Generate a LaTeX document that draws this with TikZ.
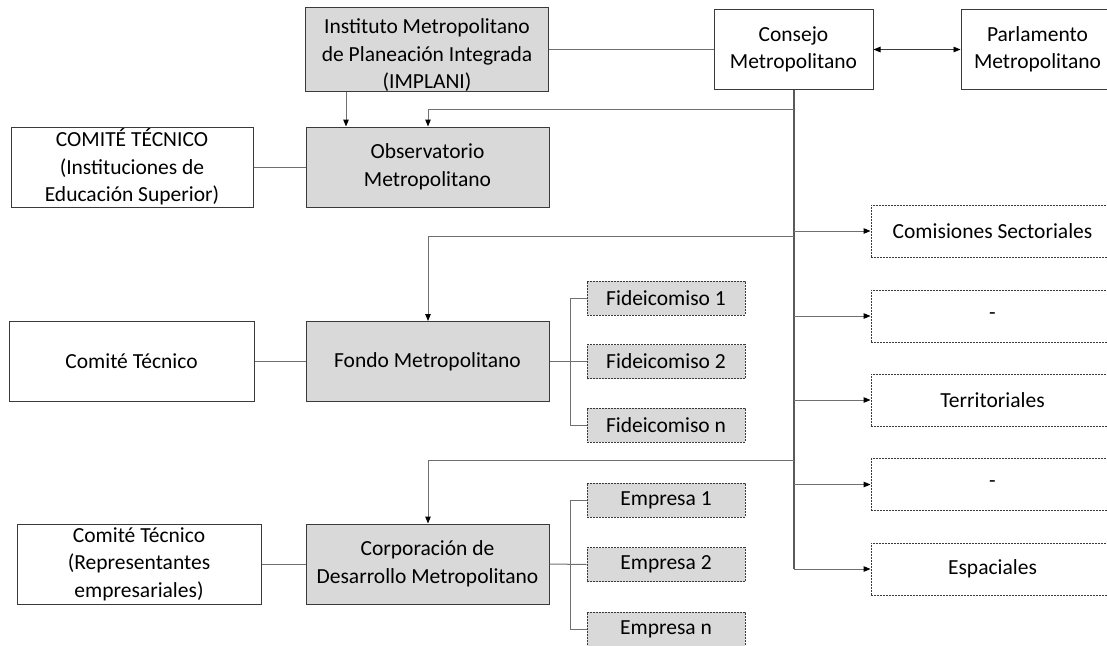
\documentclass[tikz,border=0pt]{standalone}
\usepackage{fontspec}
\setmainfont{Carlito}
\usetikzlibrary{arrows.meta}

\definecolor{boxgray}{HTML}{D9D9D9}
\definecolor{boxline}{HTML}{3A3A3A}
\definecolor{linkgray}{HTML}{707070}
\definecolor{trunkgray}{HTML}{5A5A5A}

\begin{document}
\begin{tikzpicture}[
  x=1pt,
  y=-1pt,
  font=\fontsize{21.5}{27.5}\selectfont,
  box/.style={
    draw=boxline,
    line width=1pt,
    minimum width=243pt,
    minimum height=80pt,
    inner sep=0pt,
    align=center
  },
  graybox/.style={box, fill=boxgray},
  subbox/.style={
    draw=boxline,
    fill=boxgray,
    line width=0.9pt,
    dash pattern=on 2pt off 1pt,
    minimum width=158pt,
    minimum height=34pt,
    inner sep=0pt
  },
  groupbox/.style={
    draw=boxline,
    line width=0.9pt,
    dash pattern=on 2pt off 1pt,
    minimum width=243pt,
    minimum height=52pt,
    inner sep=0pt
  },
  link/.style={draw=linkgray, line width=1pt},
  trunk/.style={draw=trunkgray, line width=1.3pt},
  tip/.style={-{Triangle[length=7pt,width=5.5pt,color=black]}}
]
  \useasboundingbox (0,0) rectangle (1107,645);

  \def\trunkx{794}
  \def\dropx{428}
  \def\leftx{346}
  \def\bracketx{570}

  % Fila superior
  \node[graybox] (implani) at (427,49.5) {\parbox{240pt}{\centering\vspace*{12pt}Instituto Metropolitano\\de Planeación Integrada\\(IMPLANI)}};
  \node[box, minimum width=159pt] (consejo) at (793.5,49.5) {Consejo\\Metropolitano};
  \node[box, minimum width=153pt] (parlamento) at (1037.5,49.5) {Parlamento\\Metropolitano};

  % Organismos
  \node[box, minimum width=242pt] (comiteA) at (132,167) {COMITÉ TÉCNICO\\(Instituciones de\\Educación Superior)};
  \node[graybox] (observatorio) at (427.5,167) {Observatorio\\Metropolitano};

  \node[box, minimum width=245pt] (comiteB) at (131.5,361.5) {Comité Técnico};
  \node[graybox] (fondo) at (427.5,361.5) {Fondo Metropolitano};

  \node[box, minimum width=244pt] (comiteC) at (139,564) {Comité Técnico\\(Representantes\\empresariales)};
  \node[graybox] (corporacion) at (427.5,564) {Corporación de\\Desarrollo Metropolitano};

  % Fideicomisos y empresas
  \node[subbox] (fidA) at (666,298) {Fideicomiso 1};
  \node[subbox] (fidB) at (666,361.5) {Fideicomiso 2};
  \node[subbox] (fidN) at (666,425) {Fideicomiso n};

  \node[subbox] (empA) at (666,500) {Empresa 1};
  \node[subbox] (empB) at (666,564.5) {Empresa 2};
  \node[subbox] (empN) at (666,629) {Empresa n};

  % Comisiones
  \node[groupbox] (comisiones) at (992.5,231) {Comisiones Sectoriales};
  \node[groupbox] (guionA) at (992.5,316) {-};
  \node[groupbox] (territoriales) at (992.5,400) {Territoriales};
  \node[groupbox] (guionB) at (992.5,484.5) {-};
  \node[groupbox] (espaciales) at (992.5,569) {Espaciales};

  \coordinate (trunkend) at (\trunkx,569);

  % Conexiones de la fila superior
  \draw[link] (implani.east) -- (consejo.west |- implani.east);
  \draw[draw=boxline, line width=0.9pt,
    {Triangle[length=7pt,width=5.5pt,color=black]}-{Triangle[length=7pt,width=5.5pt,color=black]}]
    (consejo.east) -- (parlamento.west);
  \draw[link, tip] (\leftx,0 |- implani.south) -- (\leftx,0 |- observatorio.north);

  % Tronco del Consejo
  \draw[trunk] (\trunkx,0 |- consejo.south) -- (trunkend);

  \draw[link, tip] (\trunkx,109) -| (\dropx,0 |- observatorio.north);
  \draw[link, tip] (\trunkx,236) -| (\dropx,0 |- fondo.north);
  \draw[link, tip] (\trunkx,460) -| (\dropx,0 |- corporacion.north);

  \draw[link, tip] (\trunkx,0 |- comisiones.west) -- (comisiones.west);
  \draw[link, tip] (\trunkx,0 |- guionA.west) -- (guionA.west);
  \draw[link, tip] (\trunkx,0 |- territoriales.west) -- (territoriales.west);
  \draw[link, tip] (\trunkx,0 |- guionB.west) -- (guionB.west);
  \draw[link, tip] (trunkend) -- (espaciales.west);

  % Comités técnicos
  \draw[link] (comiteA.east) -- (observatorio.west);
  \draw[link] (comiteB.east) -- (fondo.west);
  \draw[link] (comiteC.east) -- (corporacion.west);

  % Corchetes
  \draw[link] (fondo.east) -- (fidB.west);
  \draw[link] (fidA.west) -- (\bracketx,0 |- fidA.west) -- (\bracketx,0 |- fidN.west) -- (fidN.west);

  \draw[link] (corporacion.east) -- (empB.west);
  \draw[link] (empA.west) -- (\bracketx,0 |- empA.west) -- (\bracketx,0 |- empN.west) -- (empN.west);
\end{tikzpicture}
\end{document}
